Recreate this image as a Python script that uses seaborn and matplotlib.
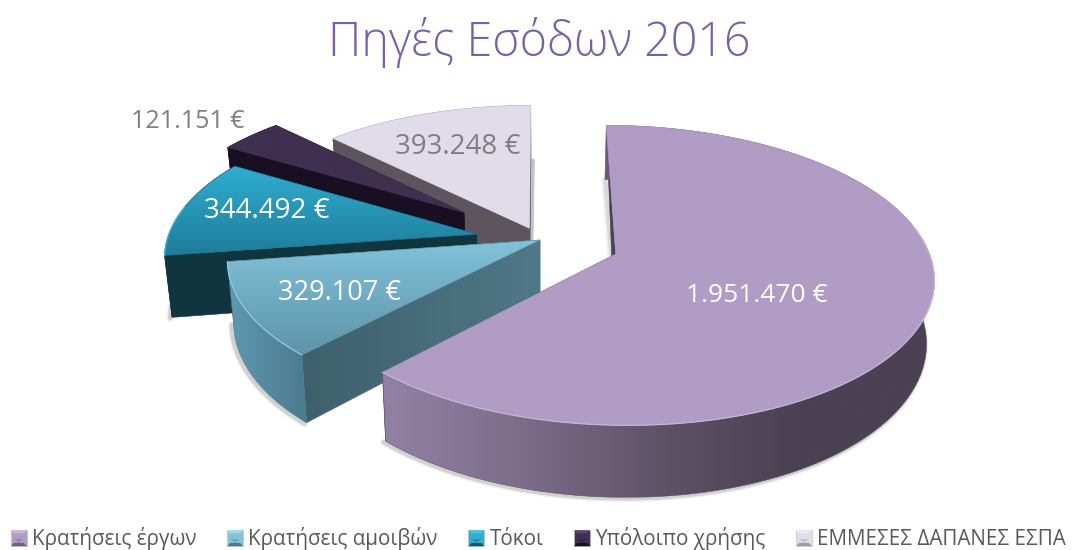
import numpy as np
import matplotlib
matplotlib.use('Agg')
import matplotlib.pyplot as plt
import seaborn as sns
from matplotlib.legend_handler import HandlerBase
from matplotlib.patches import Patch, Polygon

# Chart data
categories = ['Κρατήσεις έργων', 'Κρατήσεις αμοιβών', 'Τόκοι', 'Υπόλοιπο χρήσης', 'ΕΜΜΕΣΕΣ ΔΑΠΑΝΕΣ ΕΣΠΑ']
values = [1951470, 329107, 344492, 121151, 393248]
explode = [0.26, 0.0, 0.21, 0.32, 0.09]

# Colours per slice
top_colors = [['#B09CC4', '#B09CC4'], ['#82C3DA', '#5E93A8'], ['#30AED2', '#1E7D9A'],
              ['#3F3050', '#3F3050'], ['#E2DCEA', '#E2DCEA']]
outer_colors = [['#9381A5', '#7C6D8A', '#5F5368', '#4A4152', '#4A4152'], ['#5E9AB2', '#4C7A8D'],
                ['#10353F', '#10353F'], ['#181022', '#181022'], ['#5C555D', '#5C555D']]
radial_colors = [['#4A4256', '#4A4256'], ['#3F5F6C', '#4F7888'], ['#10353F', '#12363F'],
                 ['#181022', '#181022'], ['#5C555D', '#5C555D']]
rim_colors = ['#C6B5D9', '#8FCDE2', '#3FB8D8', '#4A3A5C', '#E9E4EF']
label_colors = ['white', 'white', 'white', '#7F7F7F', '#7F7F7F']
label_pos = [(757, 295), (339, 293), (267, 211), (188, 122), (458, 147)]
label_sizes = [19, 19.5, 20, 18, 20]
legend_colors = [['#C9B8DA', '#B09CC4', '#6E5F7E'], ['#A5DCEC', '#82C3DA', '#4C7A8D'],
                 ['#45C5E5', '#30AED2', '#10586E'], ['#5A4870', '#3F3050', '#181022'],
                 ['#EFEBF3', '#E2DCEA', '#A09AA8']]

# Perspective of the pie plane, in picture pixels
CX, CY = 540, 240
SCALE_X, SCALE_Y = 309.5, 143
PERSP = 0.14
DEPTH = 61
SHRINK = 0.98


def project(x, y):
    w = 1 + PERSP * y
    return CX + SCALE_X * x / w, CY - SCALE_Y * y / w


def drop(x, y):
    w = 1 + PERSP * y
    sx, sy = project(x, y)
    return CX + (sx - CX) * SHRINK, sy + DEPTH / w


z = [10]


def fill(poly, colors, horizontal=False):
    # gradient image clipped on a polygon
    poly = np.asarray(poly)
    z[0] += 1
    x0, y0 = poly.min(axis=0)
    x1, y1 = poly.max(axis=0)
    grad = np.linspace(0, 1, 256)
    grad = grad.reshape(1, -1) if horizontal else grad.reshape(-1, 1)
    cmap = sns.blend_palette(colors, as_cmap=True)
    im = ax.imshow(grad, cmap=cmap, extent=(x0, x1 + 0.01, y1 + 0.01, y0), aspect='auto',
                   zorder=z[0], interpolation='bilinear')
    clip = Polygon(poly, closed=True, transform=ax.transData, fc='none', ec='none')
    ax.add_patch(clip)
    im.set_clip_path(clip)
    z[0] += 1
    ax.add_patch(Polygon(poly, closed=True, fc='none', ec=colors[len(colors) // 2], lw=0.4, zorder=z[0]))


class GemHandler(HandlerBase):
    def create_artists(self, legend, orig, xd, yd, width, height, fontsize, trans):
        light, mid, dark = orig.gem
        s = height * 1.1
        x0 = width - s
        y0 = -yd - 0.05 * height
        pts = lambda p: [(x0 + a * s, y0 + b * s) for a, b in p]
        arts = [Polygon(pts([(0, 0), (1, 0), (1, 1), (0, 1)]), fc=mid, ec='#BFBFBF', lw=0.4),
                Polygon(pts([(0, 1), (1, 1), (0.8, 0.8), (0.2, 0.8)]), fc=light, lw=0),
                Polygon(pts([(0, 0), (1, 0), (0.8, 0.2), (0.2, 0.2)]), fc=dark, lw=0),
                Polygon(pts([(0.2, 0.45), (0.8, 0.45), (0.5, 0.2)]), fc=dark, alpha=0.35, lw=0)]
        for a in arts:
            a.set_transform(trans)
        return arts


sns.set_theme(style='white')
plt.rcParams['font.family'] = ['Open Sans', 'DejaVu Sans']

fig = plt.figure(figsize=(10.77, 5.5), dpi=100)
ax = fig.add_axes([0, 0, 1, 1])

wedges, _ = ax.pie(values, explode=explode, startangle=90, counterclock=False)

# far slices first, the big one last
for i in [4, 3, 2, 1, 0]:
    w = wedges[i]
    ang = np.radians(np.linspace(w.theta1, w.theta2, 120))
    ax_x = w.center[0] + w.r * np.cos(ang)
    ax_y = w.center[1] + w.r * np.sin(ang)
    tx, ty = project(ax_x, ax_y)
    bx, by = drop(ax_x, ax_y)
    ax0, ay0 = project(*w.center)
    dx0, dy0 = drop(*w.center)
    front = ax_y < w.center[1] + 0.2

    # soft shadow under the side walls
    if i in (0, 1, 2):
        z[0] += 1
        for lw, alpha in [(5, 0.10), (3, 0.18)]:
            ax.plot(bx[front] - 2, by[front] + 1, color='#555555', lw=lw, alpha=alpha, zorder=z[0])
    if i == 4:
        z[0] += 1
        ax.plot([tx[0] + 2, ax0 + 2], [ty[0] + 55, ay0 + 10], color='#888888', lw=3, alpha=0.5, zorder=z[0])

    # the two straight walls, the one on top of the big slice is only a sliver
    for end in (0, -1):
        if i == 0 and ty[end] < ay0:
            z[0] += 1
            for lw, alpha in [(6, 0.08), (3, 0.15)]:
                ax.plot([tx[end] - 1, ax0 - 4], [ty[end] + 55, ay0 + 5], color='#555555', lw=lw,
                        alpha=alpha, zorder=z[0])
            quad = [(ax0, ay0), (tx[end], ty[end]), (dx0, dy0)]
        else:
            quad = [(ax0, ay0), (tx[end], ty[end]), (bx[end], by[end]), (dx0, dy0)]
        fill(quad, radial_colors[i], horizontal=True)

    # curved wall
    wall = np.r_[np.c_[tx, ty], np.c_[bx, by][::-1]]
    fill(wall, outer_colors[i], horizontal=True)

    # top face
    top = np.r_[[(ax0, ay0)], np.c_[tx, ty]]
    fill(top, top_colors[i])
    z[0] += 1
    ax.plot(tx[front], ty[front], color=rim_colors[i], lw=0.9, zorder=z[0])

    w.remove()

for v, col, pos, size in zip(values, label_colors, label_pos, label_sizes):
    ax.text(pos[0], pos[1], f'{v:,}'.replace(',', '.') + ' €', color=col, fontsize=size,
            ha='center', va='center', zorder=1000)

ax.text(539, 42, 'Πηγές Εσόδων 2016', color='#7A5FA5', fontsize=33.5, ha='center', va='center',
        fontweight='light', zorder=1000)

handles = []
for name, cols in zip(categories, legend_colors):
    h = Patch(label=name)
    h.gem = cols
    handles.append(h)
ax.legend(handles=handles, loc='lower left', bbox_to_anchor=(0.0, -0.012), ncol=5, frameon=False,
          fontsize=14.9, labelcolor='#595959', handler_map={Patch: GemHandler()},
          handlelength=1.0, handletextpad=0.25, columnspacing=1.25, borderpad=0.3, borderaxespad=0)

ax.set_xlim(0, 1077)
ax.set_ylim(550, 0)
ax.set_aspect('auto')
ax.axis('off')
fig.savefig('out.png', dpi=100, facecolor='white')
